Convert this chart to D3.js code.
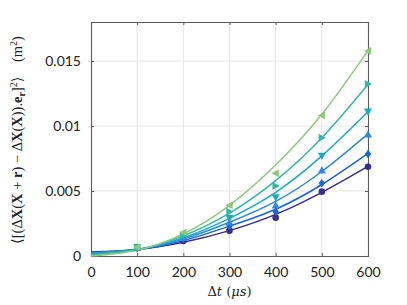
<!DOCTYPE html>
<html>
<head>
<meta charset="utf-8">
<script src="https://cdn.jsdelivr.net/npm/d3@7"></script>
<style>
body { margin: 0; background: #fff; }
svg { display: block; }
.tick text { font-family: Lato, "Open Sans", sans-serif; font-size: 14px; fill: #222; }
</style>
</head>
<body>
<svg id="chart" width="407" height="305"></svg>
<script>
var width = 407, height = 305;
var margin = {top: 22, right: 39, bottom: 49, left: 91};

// time lags (microseconds)
var lineT = [0, 100, 200, 300, 400, 500, 600];
var markT = [100, 200, 300, 400, 500, 600];

var names = ["s1", "s2", "s3", "s4", "s5", "s6"];
var colors = ["#3b2d8e", "#1764e6", "#2b8ade", "#17aac9", "#35b8a0", "#8dc97c"];
var symbols = ["circle", "diamond", "up", "down", "right", "left"];

// fitted curves
var fitS1 = [0.0003, 0.0005, 0.00105, 0.00195, 0.0032, 0.0049, 0.0069];
var fitS2 = [0.00026, 0.0005, 0.00118, 0.0023, 0.0036, 0.0055, 0.0079];
var fitS3 = [0.00022, 0.0005, 0.0013, 0.0026, 0.0042, 0.0065, 0.0094];
var fitS4 = [0.00017, 0.0005, 0.0014, 0.0029, 0.0049, 0.0077, 0.0111];
var fitS5 = [0.0001, 0.00048, 0.00155, 0.0033, 0.0058, 0.0091, 0.0132];
var fitS6 = [0.0, 0.00045, 0.0017, 0.0039, 0.0070, 0.0109, 0.0158];

// measured points
var ptS1 = [0.00062, 0.00115, 0.00195, 0.00295, 0.00495, 0.00687];
var ptS2 = [0.00063, 0.0013, 0.0023, 0.0034, 0.0056, 0.00785];
var ptS3 = [0.00064, 0.0014, 0.0026, 0.0039, 0.0066, 0.00936];
var ptS4 = [0.00065, 0.0015, 0.0029, 0.0045, 0.0077, 0.0111];
var ptS5 = [0.00066, 0.0016, 0.0034, 0.00538, 0.0091, 0.01323];
var ptS6 = [0.00068, 0.0018, 0.0039, 0.00636, 0.0108, 0.01577];

var fits = [fitS1, fitS2, fitS3, fitS4, fitS5, fitS6];
var points = [ptS1, ptS2, ptS3, ptS4, ptS5, ptS6];

var xTicks = [0, 100, 200, 300, 400, 500, 600];
var yTicks = [0, 0.005, 0.01, 0.015];

var svg = d3.select("#chart");
var w = width - margin.left - margin.right,
	h = height - margin.top - margin.bottom;
var g = svg.append("g").attr("transform", "translate(" + margin.left + "," + margin.top + ")");

var x = d3.scaleLinear().domain([0, 600]).range([0, w]);
var y = d3.scaleLinear().domain([0, 0.018]).range([h, 0]);

// grid
g.append("g").selectAll("line").data(xTicks.slice(1, -1)).enter().append("line")
	.attr("x1", function (d) { return x(d); }).attr("x2", function (d) { return x(d); })
	.attr("y1", 0).attr("y2", h)
	.attr("stroke", "#e5e5e5").attr("stroke-width", 1);
g.append("g").selectAll("line").data(yTicks.slice(1)).enter().append("line")
	.attr("x1", 0).attr("x2", w)
	.attr("y1", function (d) { return y(d); }).attr("y2", function (d) { return y(d); })
	.attr("stroke", "#e5e5e5").attr("stroke-width", 1);

var fmt = function (d) { return d === 0 ? "0" : String(+d.toFixed(3)); };

var xAxis = g.append("g").attr("transform", "translate(0," + h + ")")
	.call(d3.axisBottom(x).tickValues(xTicks).tickSize(-3).tickPadding(8).tickFormat(d3.format("d")));
var yAxis = g.append("g")
	.call(d3.axisLeft(y).tickValues(yTicks).tickSize(-3).tickPadding(10).tickFormat(fmt));
var xTop = g.append("g")
	.call(d3.axisTop(x).tickValues(xTicks).tickSize(-3).tickFormat(""));
var yRight = g.append("g").attr("transform", "translate(" + w + ",0)")
	.call(d3.axisRight(y).tickValues(yTicks).tickSize(-3).tickFormat(""));
[xAxis, yAxis, xTop, yRight].forEach(function (a) {
	a.select(".domain").attr("stroke", "#5a5a5a").attr("stroke-width", 1.1);
	a.selectAll(".tick line").attr("stroke", "#5a5a5a");
});
xAxis.selectAll(".tick text").attr("dy", "0.9em");

// curves
var line = d3.line()
	.x(function (d, i) { return x(lineT[i]); })
	.y(function (d) { return y(d); })
	.curve(d3.curveNatural);

var plot = g.append("g");
fits.forEach(function (s, k) {
	plot.append("path").datum(s)
		.attr("fill", "none")
		.attr("stroke", colors[k])
		.attr("stroke-width", 1.5)
		.attr("d", line);
});

// markers
var tri = function (dir, r) {
	var p;
	if (dir === "up") p = [[0, -r], [r, r * 0.8], [-r, r * 0.8]];
	else if (dir === "down") p = [[0, r], [r, -r * 0.8], [-r, -r * 0.8]];
	else if (dir === "right") p = [[r, 0], [-r * 0.8, -r], [-r * 0.8, r]];
	else p = [[-r, 0], [r * 0.8, -r], [r * 0.8, r]];
	return "M" + p.map(function (q) { return q.join(","); }).join("L") + "Z";
};
points.forEach(function (s, k) {
	var sym = symbols[k];
	var grp = plot.append("g").attr("fill", colors[k]);
	s.forEach(function (v, i) {
		var px = x(markT[i]), py = y(v);
		if (sym === "circle") {
			grp.append("circle").attr("r", 3.3).attr("cx", px).attr("cy", py);
		} else if (sym === "diamond") {
			grp.append("path").attr("transform", "translate(" + px + "," + py + ")")
				.attr("d", "M0,-4.2L3.2,0L0,4.2L-3.2,0Z");
		} else {
			grp.append("path").attr("transform", "translate(" + px + "," + py + ")")
				.attr("d", tri(sym, 4));
		}
	});
});

// labels
svg.append("text")
	.attr("x", margin.left + w / 2).attr("y", 296)
	.attr("text-anchor", "middle")
	.attr("font-family", "'DejaVu Serif', 'Liberation Serif', serif")
	.attr("font-size", 13).attr("fill", "#222")
	.html("\u0394<tspan font-style='italic'>t</tspan> (<tspan font-style='italic'>\u03bcs</tspan>)");

svg.append("text")
	.attr("transform", "translate(22," + 140 + ") rotate(-90)")
	.attr("text-anchor", "middle")
	.attr("font-family", "'Liberation Serif', 'DejaVu Serif', serif")
	.attr("font-size", 14.5).attr("fill", "#222")
	.html("\u27e8[(\u0394<tspan font-weight='bold'>X</tspan>(<tspan font-weight='bold'>X</tspan> + <tspan font-weight='bold'>r</tspan>) \u2212 \u0394<tspan font-weight='bold'>X</tspan>(<tspan font-weight='bold'>X</tspan>)).<tspan font-weight='bold'>e</tspan><tspan font-weight='bold' font-size='10' dy='3'>r</tspan><tspan dy='-3'>]</tspan><tspan font-size='10' dy='-5'>2</tspan><tspan dy='5'>\u27e9</tspan>\u2003(m<tspan font-size='10' dy='-5'>2</tspan><tspan dy='5'>)</tspan>");
</script>
</body>
</html>
